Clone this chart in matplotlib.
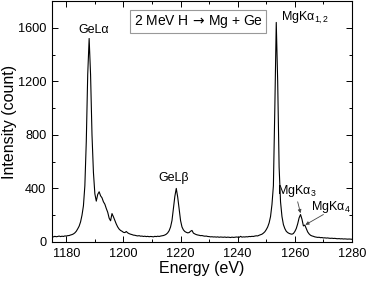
import numpy as np
import matplotlib
matplotlib.use('Agg')
import matplotlib.pyplot as plt
from matplotlib.ticker import MultipleLocator

plt.rcParams['font.family'] = ['Liberation Sans', 'DejaVu Sans']
plt.rcParams['mathtext.fontset'] = 'custom'
plt.rcParams['mathtext.rm'] = 'Liberation Sans'
plt.rcParams['mathtext.it'] = 'Liberation Sans'
plt.rcParams['mathtext.sf'] = 'DejaVu Sans'

# detector channels, 0.5 eV apart
energy = np.arange(1175.0, 1280.25, 0.5)

# counts, one row per 5 eV
counts = [
    40, 38, 42, 39, 41, 44, 40, 43, 41, 45,
    44, 47, 48, 52, 55, 60, 68, 80, 98, 118,
    150, 200, 270, 420, 750, 1250, 1520, 1250, 800, 520,
    360, 305, 355, 375, 345, 330, 300, 282, 250, 222,
    178, 158, 212, 188, 160, 134, 112, 96, 86, 80,
    72, 70, 78, 68, 62, 58, 55, 51, 50, 47,
    45, 47, 43, 44, 41, 43, 40, 42, 39, 41,
    40, 38, 42, 40, 43, 41, 44, 46, 48, 52,
    58, 68, 84, 112, 160, 250, 340, 400, 335, 245,
    160, 112, 90, 78, 72, 68, 70, 80, 86, 66,
    60, 55, 52, 50, 47, 48, 45, 43, 44, 41,
    40, 38, 39, 37, 38, 36, 38, 35, 37, 36,
    35, 37, 34, 36, 35, 33, 36, 34, 35, 37,
    36, 34, 42, 36, 38, 37, 39, 38, 41, 40,
    42, 41, 44, 46, 45, 50, 54, 58, 66, 76,
    92, 112, 142, 190, 280, 420, 1000, 1640, 1200, 560,
    300, 190, 130, 100, 80, 70, 64, 60, 58, 63,
    78, 100, 135, 180, 205, 170, 120, 126, 100, 75,
    60, 50, 45, 42, 38, 36, 34, 35, 32, 33,
    30, 31, 29, 30, 28, 27, 28, 26, 27, 25,
    24, 25, 23, 24, 22, 23, 22, 21, 22, 21,
    20,
]

xticks = [1180, 1200, 1220, 1240, 1260, 1280]
yticks = [0, 400, 800, 1200, 1600]

fig = plt.figure(figsize=(3.67, 2.86), dpi=100)
ax = fig.add_axes([0.1417, 0.154, 0.8173, 0.8425])

ax.plot(energy, counts, color='black', lw=0.8)

ax.set_xlim(1175, 1280)
ax.set_ylim(0, 1800)
ax.set_xticks(xticks)
ax.set_yticks(yticks)
ax.xaxis.set_minor_locator(MultipleLocator(10))
ax.yaxis.set_minor_locator(MultipleLocator(200))
ax.tick_params(which='both', direction='in', top=True, right=True,
               labelsize=9.2, width=0.7, pad=4)
ax.tick_params(which='major', length=4)
ax.tick_params(which='minor', length=2.5)
for s in ax.spines.values():
    s.set_linewidth(0.8)

ax.set_xlabel('Energy (eV)', fontsize=11.5, labelpad=1)
ax.set_ylabel('Intensity (count)', fontsize=11.5, labelpad=1)

# peak labels
ax.text(1189.6, 1585, 'GeLα', fontsize=9, ha='center', va='center')
ax.text(1217.4, 475, 'GeLβ', fontsize=9, ha='center', va='center')
ax.text(1255.0, 1670, 'MgKα$_{1,2}$', fontsize=9, ha='left', va='center')
ax.text(1260.6, 380, 'MgKα$_3$', fontsize=9, ha='center', va='center')
ax.text(1272.6, 262, 'MgKα$_4$', fontsize=9, ha='center', va='center')

arrow = dict(arrowstyle='-|>', color='#444444', lw=0.6,
             mutation_scale=5, shrinkA=0, shrinkB=0)
ax.annotate('', xy=(1262.0, 215), xytext=(1261.0, 300), arrowprops=arrow)
ax.annotate('', xy=(1263.7, 128), xytext=(1270.0, 205), arrowprops=arrow)

ax.text(1226.2, 1647, '2 MeV H$\\,\\mathsf{\\rightarrow}\\,$Mg + Ge', fontsize=10,
        ha='center', va='center',
        bbox=dict(boxstyle='square,pad=0.25', facecolor='white',
                  edgecolor='#999999', lw=0.8))

fig.savefig('out.png', dpi=100)
